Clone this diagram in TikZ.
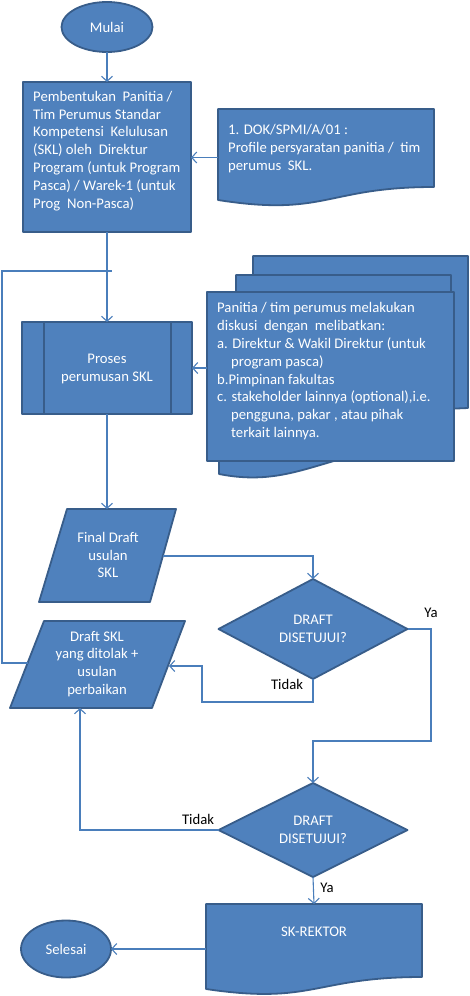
\documentclass[tikz,border=0pt]{standalone}
\usepackage{fontspec}
\setmainfont{Carlito}
\usetikzlibrary{shapes.geometric,arrows.meta}
\definecolor{fillc}{HTML}{4F81BD}
\definecolor{bordc}{HTML}{385D8A}
\definecolor{linec}{HTML}{4A7EBB}
\newcommand\fsz{\fontsize{14.7}{17.8}\selectfont}
\newcommand\tops{\rule{0pt}{12pt}}
\begin{document}
\begin{tikzpicture}[x=1pt,y=-1pt,
  shp/.style={draw=bordc, fill=fillc, line width=1.8pt, line join=round, outer sep=0pt},
  ghost/.style={inner sep=0pt, outer sep=0pt},
  con/.style={draw=linec, line width=1.1pt},
  arr/.style={con, -{Straight Barb[length=5pt,width=11pt]}},
  wt/.style={text=white, font=\fsz, inner sep=0pt},
  lbl/.style={text=black, font=\fsz, inner sep=0pt}]
\fill[white] (0,0) rectangle (470,996);
\useasboundingbox (0,0) rectangle (470,996);

% Start
\node[shp, ellipse, minimum width=91pt, minimum height=50pt, wt] (mulai) at (107,27) {Mulai};

% Box 1
\node[shp, rectangle, anchor=north west, minimum width=168pt, minimum height=150pt] (b1) at (23,82) {};
\node[wt, anchor=north west, align=left] (t1) at (33,89) {\tops Pembentukan\ \ Panitia /\\Tim Perumus Standar\\Kompetensi\ \ Kelulusan\\(SKL) oleh\ \ Direktur\\Program (untuk Program\\Pasca) / Warek-1 (untuk\\Prog\ \ Non-Pasca)};

% Document 1
\draw[shp] (218,109) -- (434,109) -- (434,187) .. controls (326,187) and (326,217) .. (218,200) -- cycle;
\node[ghost, anchor=north west, minimum width=216pt, minimum height=97pt] (doc1) at (218,109) {};
\node[wt, anchor=north west, align=left] (t2) at (228,122.5) {\tops 1. DOK/SPMI/A/01 :\\Profile persyaratan panitia /\ \ tim\\perumus\ \ SKL.};

% Process
\node[shp, rectangle, minimum width=170pt, minimum height=92pt] (proc) at (107,368) {};
\draw[shp] (44,322) -- (44,414);
\draw[shp] (171,322) -- (171,414);
\node[wt, align=center] (tp) at (107,369) {Proses\\perumusan SKL};

% Multi document
\draw[shp] (253,292) -- (253,256) -- (468,256) -- (468,408) -- (445,409) -- cycle;
\draw[shp] (236,292) -- (236,275) -- (451,275) -- (451,420) -- (440,420) -- cycle;
\draw[shp] (219,292) -- (440,292) -- (440,445) .. controls (330,445) and (300,490) .. (219,474) -- cycle;
\node[shp, rectangle, anchor=north west, minimum width=247pt, minimum height=169pt, inner sep=0pt] (multi) at (207,292) {};
\node[wt, anchor=north west, align=left] (t3) at (217,300.7) {\tops Panitia / tim perumus melakukan\\diskusi\ \ dengan\ \ melibatkan:\\a. Direktur \& Wakil Direktur (untuk\\\hspace*{14pt}program pasca)\\b.Pimpinan fakultas\\c. stakeholder lainnya (optional),i.e.\\\hspace*{14pt}pengguna, pakar , atau pihak\\\hspace*{14pt}terkait lainnya.};

% Final draft parallelogram
\draw[shp] (67,509) -- (176,509) -- (150,602) -- (39,602) -- cycle;
\coordinate (fdT) at (107,509);
\coordinate (fdR) at (163,556);
\node[wt, align=center] (fd) at (108,555) {Final Draft\\usulan\\SKL};

% Draft SKL parallelogram
\draw[shp] (44,621) -- (185,621) -- (152,708) -- (10,708) -- cycle;
\coordinate (dskL) at (27.6,663);
\coordinate (dskR) at (169,666);
\coordinate (dskB) at (80,708);
\node[wt, align=center] (dsk) at (97,664) {Draft SKL\\yang ditolak +\\usulan\\perbaikan};

% Decisions
\node[shp, diamond, aspect=1.9, inner sep=0pt, minimum width=189pt, minimum height=100pt, wt, align=center] (d1) at (313,629) {DRAFT\\DISETUJUI?};
\node[shp, diamond, aspect=1.9, inner sep=0pt, minimum width=189pt, minimum height=94pt, wt, align=center] (d2) at (313,830) {DRAFT\\DISETUJUI?};

% SK-REKTOR document
\draw[shp] (206,904) -- (422,904) -- (422,977) .. controls (314,977) and (314,1005) .. (206,989) -- cycle;
\node[ghost, anchor=north west, minimum width=216pt, minimum height=90pt] (sk) at (206,904) {};
\node[wt] (tsk) at (314,932) {SK-REKTOR};

% End
\node[shp, ellipse, minimum width=90pt, minimum height=57pt, wt] (selesai) at (66,949) {Selesai};

% Connectors
\coordinate (lc) at (2,271);
\coordinate (loopend) at (112,271);
\coordinate (yaTurn) at (431,741);
\coordinate (tdk1) at (202,702);

\draw[arr] (mulai.south) -- (b1.north);
\draw[arr] (doc1.west) -- (doc1.west -| b1.east);
\draw[arr] (b1.south) -- (proc.north);
\draw[con] (dskL) -| (lc) -- (loopend);
\draw[arr] (multi.west |- proc.east) -- (proc.east);
\draw[arr] (proc.south) -- (fdT);
\draw[arr] (fdR) -| (d1.north);
\draw[arr] (d1.east) -| (yaTurn) -| (d2.north);
\draw[arr] (d1.south) |- (tdk1) |- (dskR);
\draw[arr] (d2.west) -| (dskB);
\draw[arr] (d2.south) -- (sk.north);
\draw[arr] (sk.west |- selesai.east) -- (selesai.east);

% Labels
\node[lbl] (ya1) at (431,613) {Ya};
\node[lbl] (tdk1l) at (287,684) {Tidak};
\node[lbl] (tdk2l) at (198,819) {Tidak};
\node[lbl] (ya2) at (327,888) {Ya};
\end{tikzpicture}
\end{document}
